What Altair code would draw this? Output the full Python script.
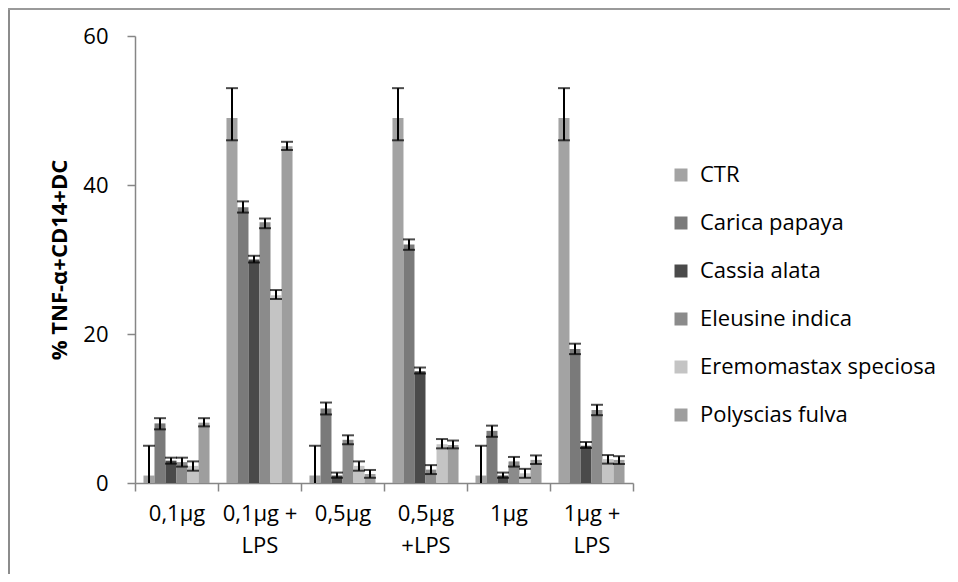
import altair as alt
import pandas as pd

groups = ["0,1µg", "0,1µg +|LPS", "0,5µg", "0,5µg|+LPS", "1µg", "1µg +|LPS"]
series = ["CTR", "Carica papaya", "Cassia alata", "Eleusine indica",
          "Eremomastax speciosa", "Polyscias fulva"]
colors = ["#a3a3a3", "#7a7a7a", "#4a4a4a", "#8b8b8b", "#c4c4c4", "#9e9e9e"]

values = {
    "CTR":                  [1.0, 49.0, 1.0, 49.0, 1.0, 49.0],
    "Carica papaya":        [8.0, 37.0, 10.0, 32.0, 7.0, 18.0],
    "Cassia alata":         [3.0, 30.0, 1.0, 15.0, 1.0, 5.0],
    "Eleusine indica":      [2.8, 35.0, 5.8, 1.8, 2.9, 9.8],
    "Eremomastax speciosa": [2.3, 25.2, 2.3, 5.2, 1.3, 3.2],
    "Polyscias fulva":      [8.1, 45.2, 1.2, 5.1, 3.1, 3.1],
}
err_low = {
    "CTR":                  [-3.0, 46.0, -3.0, 46.0, -3.0, 46.0],
    "Carica papaya":        [7.2, 36.3, 9.2, 31.3, 6.2, 17.3],
    "Cassia alata":         [2.6, 29.6, 0.7, 14.7, 0.7, 4.7],
    "Eleusine indica":      [2.2, 34.2, 5.2, 1.2, 2.2, 9.1],
    "Eremomastax speciosa": [1.65, 24.7, 1.65, 4.65, 0.7, 2.6],
    "Polyscias fulva":      [7.6, 44.7, 0.7, 4.65, 2.55, 2.55],
}
err_high = {
    "CTR":                  [5.0, 53.0, 5.0, 53.0, 5.0, 53.0],
    "Carica papaya":        [8.7, 37.8, 10.8, 32.7, 7.7, 18.7],
    "Cassia alata":         [3.4, 30.5, 1.4, 15.5, 1.4, 5.5],
    "Eleusine indica":      [3.4, 35.5, 6.4, 2.4, 3.5, 10.5],
    "Eremomastax speciosa": [2.9, 25.9, 2.9, 5.9, 1.9, 3.75],
    "Polyscias fulva":      [8.7, 45.8, 1.75, 5.7, 3.7, 3.6],
}
y_ticks = [0, 20, 40, 60]

rows = []
for s in series:
    for gi, g in enumerate(groups):
        rows.append({"group": g, "series": s, "value": values[s][gi],
                     "lo": err_low[s][gi], "hi": err_high[s][gi]})
df = pd.DataFrame(rows)

FONT = "Open Sans"
AX = "#868686"

x_enc = alt.X("group:N", sort=groups,
              scale=alt.Scale(paddingInner=0, paddingOuter=0),
              axis=alt.Axis(title=None, labelAngle=0, labelFont=FONT, labelFontSize=22,
                            labelColor="black", labelExpr="split(datum.label, '|')",
                            labelLineHeight=32, labelPadding=12, labelBaseline="top",
                            domainColor=AX, domainWidth=1.5, tickColor=AX, tickWidth=1.5,
                            tickSize=8, tickBand="extent", labelLimit=200))
xo_enc = alt.XOffset("series:N", sort=series,
                     scale=alt.Scale(paddingInner=0, paddingOuter=0.77))
y_scale = alt.Scale(domain=[0, 60], nice=False)

bars = alt.Chart(df).mark_bar(opacity=1).encode(
    x=x_enc, xOffset=xo_enc,
    y=alt.Y("value:Q", scale=y_scale,
            axis=alt.Axis(values=y_ticks, grid=False, labelFont=FONT, labelFontSize=22,
                          labelColor="black", labelPadding=19, domainColor=AX,
                          domainWidth=1.5, tickColor=AX, tickWidth=1.5, tickSize=8,
                          title="% TNF-α+CD14+DC", titleFont=FONT, titleFontSize=22,
                          titleFontWeight="bold", titleColor="black",
                          titleX=-76, titleY=223.5, titleBaseline="middle",
                          titleAlign="center")),
    color=alt.Color("series:N", sort=series,
                    scale=alt.Scale(domain=series, range=colors),
                    legend=alt.Legend(title=None, orient="none", legendX=535, legendY=128,
                                      symbolType="square", symbolSize=169,
                                      symbolStrokeWidth=0, labelFont=FONT,
                                      labelFontSize=22, labelColor="black",
                                      labelOffset=8, rowPadding=26, labelLimit=400)),
)

rules = alt.Chart(df).mark_rule(color="black", strokeWidth=2, clip=True).encode(
    x=x_enc, xOffset=xo_enc, y=alt.Y("lo:Q", scale=y_scale), y2="hi:Q")
caps_hi = alt.Chart(df).mark_tick(color="black", thickness=2, size=12, clip=True).encode(
    x=x_enc, xOffset=xo_enc, y=alt.Y("hi:Q", scale=y_scale))
caps_lo = alt.Chart(df).mark_tick(color="black", thickness=2, size=12, clip=True).encode(
    x=x_enc, xOffset=xo_enc, y=alt.Y("lo:Q", scale=y_scale))

frame_df = pd.DataFrame({"k": [0]})
frame_left = alt.Chart(frame_df).mark_rule(color="#8c8c8c", strokeWidth=2).encode(
    x=alt.value(-126), y=alt.value(-28), y2=alt.value(540))
frame_top = alt.Chart(frame_df).mark_rule(color="#9a9a9a", strokeWidth=2).encode(
    x=alt.value(-127), x2=alt.value(820), y=alt.value(-27))

chart = alt.layer(bars, rules, caps_hi, caps_lo, frame_left, frame_top).properties(
    width=498, height=447,
    autosize=alt.AutoSizeParams(type="none"),
    padding={"left": 127, "top": 28, "right": 317, "bottom": 91},
    background="white",
).configure(font=FONT).configure_view(stroke="transparent", strokeWidth=0)

chart.save("out.html", embed_options={"renderer": "svg", "actions": False})
